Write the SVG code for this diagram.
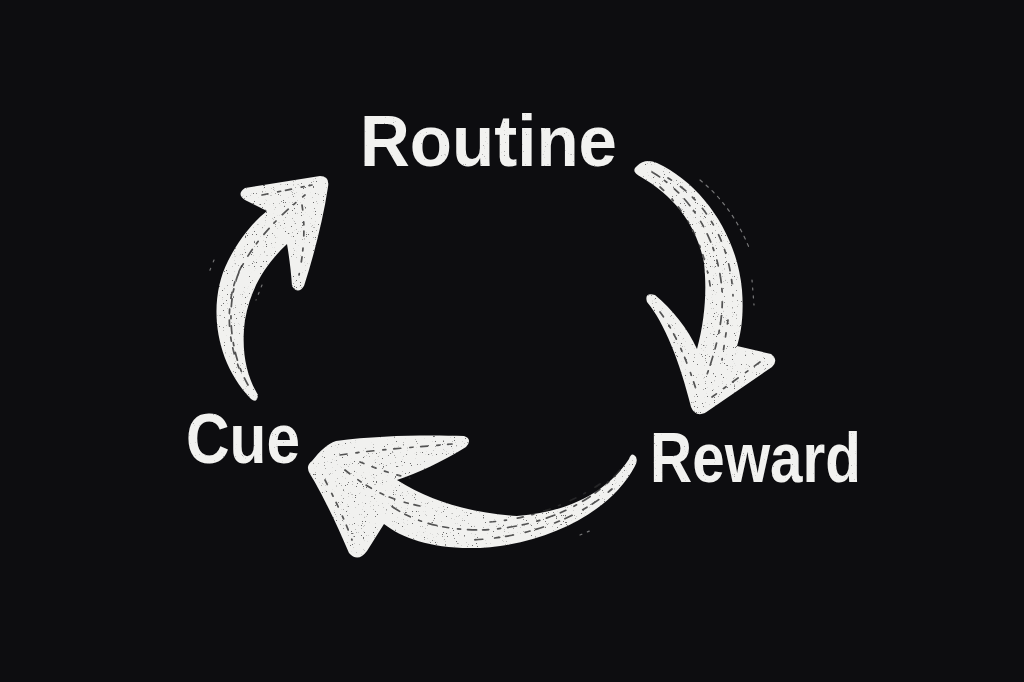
<svg xmlns="http://www.w3.org/2000/svg" width="1024" height="682" viewBox="0 0 1024 682">
  <defs>
    <style>
      .lbl { font-family: "Liberation Sans", Arial, sans-serif; font-weight: bold; fill: #f2f2f0; }
      .arrow { fill: #f1f1ef; }
      .streak { fill: none; stroke: #2a2a2c; stroke-width: 1.7; stroke-linecap: round; opacity: 0.8; }
      .dust { fill: none; stroke: #cfcfcf; stroke-width: 1.2; stroke-linecap: round; opacity: 0.55; }
    </style>
    <filter id="chalk" x="-5%" y="-5%" width="110%" height="110%">
      <feTurbulence type="fractalNoise" baseFrequency="0.9" numOctaves="2" seed="4" result="n"/>
      <feColorMatrix in="n" type="matrix" values="0 0 0 0 0.15  0 0 0 0 0.15  0 0 0 0 0.15  0 0 0 14 -9.7" result="sp"/>
      <feComposite in="sp" in2="SourceGraphic" operator="in" result="sp2"/>
      <feMerge><feMergeNode in="SourceGraphic"/><feMergeNode in="sp2"/></feMerge>
    </filter>
    <filter id="chalkText" x="-5%" y="-5%" width="110%" height="110%">
      <feTurbulence type="fractalNoise" baseFrequency="1.1" numOctaves="1" seed="9" result="n"/>
      <feColorMatrix in="n" type="matrix" values="0 0 0 0 0.4  0 0 0 0 0.4  0 0 0 0 0.4  0 0 0 14 -9.8" result="sp"/>
      <feComposite in="sp" in2="SourceGraphic" operator="in" result="sp2"/>
      <feMerge><feMergeNode in="SourceGraphic"/><feMergeNode in="sp2"/></feMerge>
    </filter>
  </defs>
  <rect width="1024" height="682" fill="#0d0d10"/>

  <g id="connectors">
    <g id="arrow-routine-reward" filter="url(#chalk)">
      <path class="arrow" d="M 637,166 Q 645,158 657,163 C 702,184 737,234 742,290 C 744,315 741,334 737,346 L 771,354 Q 779,360 772,367 L 705,413 Q 695,417 691,407 C 680,362 664,322 647,302 Q 644,292 655,295 C 672,309 688,329 697,349 C 705,320 707,290 704,263 C 697,225 674,196 641,177 Q 630,171 637,166 Z"/>
      <path class="streak" stroke-dasharray="9 6 3 10 6 8" d="M 652,172 C 692,196 718,240 722,290 C 724,320 716,350 705,380"/>
      <path class="streak" stroke-dasharray="4 11 7 9" d="M 668,178 C 708,202 731,246 733,296"/>
      <path class="streak" stroke-dasharray="5 12 2 8" d="M 660,187 C 688,212 706,250 711,292"/>
      <path class="streak" stroke-dasharray="6 10 3 7" d="M 660,312 C 675,332 688,362 698,396"/>
      <path class="streak" stroke-dasharray="7 8 3 9" d="M 760,362 L 712,397"/>
      <path class="streak" stroke-dasharray="4 9" d="M 728,320 L 722,360"/>
    </g>
    <g id="arrow-reward-cue" filter="url(#chalk)">
      <path class="arrow" d="M 634,455 Q 639,458 635,466 C 611,513 541,548 470,548 C 430,548 402,538 384,524 L 367,551 Q 358,563 349,553 C 335,520 321,492 310,474 Q 305,466 312,461 C 320,451 327,444 336,441 C 380,435 430,435 464,436 Q 473,439 466,447 C 440,463 420,472 397,480 C 430,501 470,513 517,516 C 570,512 608,491 629,459 Q 631,453 634,455 Z"/>
      <path class="streak" stroke-dasharray="9 7 3 9 6 6" d="M 620,470 C 590,505 540,528 480,530 C 440,530 410,520 390,505"/>
      <path class="streak" stroke-dasharray="5 12 8 6" d="M 612,489 C 582,516 530,538 470,540"/>
      <path class="streak" stroke-dasharray="6 11 2 9" d="M 600,484 C 570,504 530,519 490,522"/>
      <path class="streak" stroke-dasharray="7 9 3 8" d="M 340,455 C 380,449 420,447 452,444"/>
      <path class="streak" stroke-dasharray="5 10 3 7" d="M 325,480 C 335,500 345,520 352,540"/>
      <path class="streak" stroke-dasharray="6 10 4 6" d="M 345,470 C 370,490 390,500 420,506"/>
      <path class="streak" stroke-dasharray="4 9" d="M 360,462 C 380,470 395,475 410,478"/>
    </g>
    <g id="arrow-cue-routine" filter="url(#chalk)">
      <path class="arrow" d="M 251,399 C 213,360 208,300 228,261 C 239,239 253,222 267,211 L 245,200 Q 236,194 245,188 L 320,176 Q 330,176 328,187 C 323,220 314,255 304,286 Q 298,295 292,286 C 291,270 289,256 287,244 C 267,263 251,286 245,320 C 241,350 246,375 258,395 Q 257,404 251,399 Z"/>
      <path class="streak" stroke-dasharray="8 7 3 9" d="M 248,385 C 228,350 226,300 240,270 C 255,240 280,215 305,195"/>
      <path class="streak" stroke-dasharray="4 11 6 7" d="M 239,368 C 224,330 227,290 244,262"/>
      <path class="streak" stroke-dasharray="5 12 3 6" d="M 302,205 C 306,230 303,255 299,275"/>
      <path class="streak" stroke-dasharray="6 10 3 5" d="M 262,195 L 312,185"/>
    </g>
    <g id="dust">
      <path class="dust" stroke-dasharray="3 5" d="M 700,180 C 725,200 740,225 750,250"/>
      <path class="dust" stroke-dasharray="2 6" d="M 752,280 L 754,305"/>
      <path class="dust" stroke-dasharray="2 7" d="M 214,260 L 208,275"/>
      <path class="dust" stroke-dasharray="2 6" d="M 262,285 L 256,300"/>
      <path class="dust" stroke-dasharray="2 6" d="M 580,535 L 592,530"/>
    </g>
  </g>

  <g id="node-routine" filter="url(#chalkText)">
    <text class="lbl" x="360" y="166" font-size="72" textLength="257" lengthAdjust="spacingAndGlyphs">Routine</text>
  </g>
  <g id="node-cue" filter="url(#chalkText)">
    <text class="lbl" x="186" y="463" font-size="70" textLength="114" lengthAdjust="spacingAndGlyphs">Cue</text>
  </g>
  <g id="node-reward" filter="url(#chalkText)">
    <text class="lbl" x="650" y="482" font-size="70" textLength="211" lengthAdjust="spacingAndGlyphs">Reward</text>
  </g>
</svg>
